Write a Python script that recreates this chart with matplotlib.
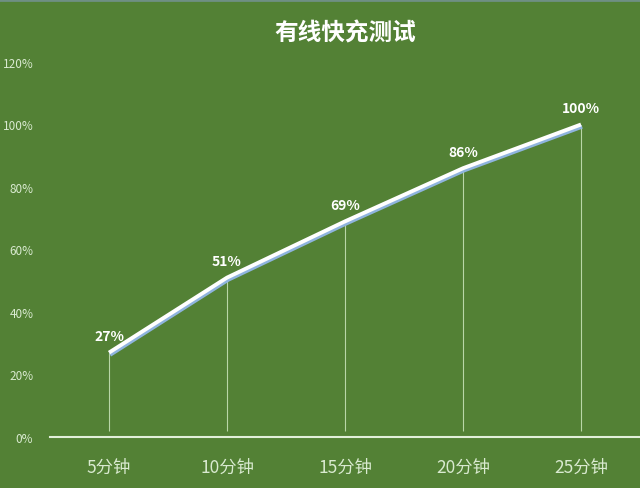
import matplotlib
matplotlib.use("Agg")
import matplotlib.pyplot as plt
import matplotlib.patheffects as pe
from matplotlib.ticker import FuncFormatter

plt.rcParams["font.family"] = ["Noto Sans CJK SC", "DejaVu Sans"]

categories = ["5分钟", "10分钟", "15分钟", "20分钟", "25分钟"]
charge = [0.27, 0.51, 0.69, 0.86, 1.00]
value_labels = ["27%", "51%", "69%", "86%", "100%"]
y_ticks = [0, 0.2, 0.4, 0.6, 0.8, 1.0, 1.2]

BG = "#538135"
LIGHT = "#d9ead0"

fig = plt.figure(figsize=(6.4, 4.89), dpi=100, facecolor=BG)
ax = fig.add_axes([50 / 640, 1 - 438 / 489, 590 / 640, (438 - 63) / 489])
ax.set_facecolor(BG)

x = list(range(len(categories)))

# drop lines from each point
ax.vlines(x, 0.02, charge, colors="#c5e0b4", linewidth=0.8, alpha=0.9, zorder=2)

ax.plot(
    x, charge, color="white", linewidth=2.8, solid_capstyle="butt", zorder=3,
    path_effects=[pe.SimpleLineShadow(offset=(0.8, -1.6), shadow_color="#8fb4de", alpha=1.0),
                  pe.Normal()],
)

for xi, yi, lab in zip(x, charge, value_labels):
    ax.annotate(lab, (xi, yi), xytext=(0, 7), textcoords="offset points",
                ha="center", va="bottom", color="white", fontsize=10, fontweight="bold")

ax.set_xlim(-0.5, len(categories) - 0.5)
ax.set_ylim(0, 1.2)
ax.set_yticks(y_ticks)
ax.yaxis.set_major_formatter(FuncFormatter(lambda v, _: f"{v * 100:.0f}%"))
ax.set_xticks(x)
ax.set_xticklabels(categories)

ax.tick_params(axis="y", length=0, pad=12, labelsize=8.5, labelcolor=LIGHT)
ax.tick_params(axis="x", length=0, pad=15, labelsize=12.5, labelcolor=LIGHT)

for side in ["top", "right", "left"]:
    ax.spines[side].set_visible(False)
ax.spines["bottom"].set_color("#e2efda")
ax.spines["bottom"].set_linewidth(1.5)

fig.text(345 / 640, 1 - 33 / 489, "有线快充测试", ha="center", va="center",
         color="white", fontsize=17, fontweight="bold")

# thin frame line at the top edge
fig.add_artist(plt.Line2D([0, 1], [0.998, 0.998], transform=fig.transFigure,
                          color="#6f8f84", linewidth=2))

fig.savefig("out.png", dpi=100, facecolor=BG)
